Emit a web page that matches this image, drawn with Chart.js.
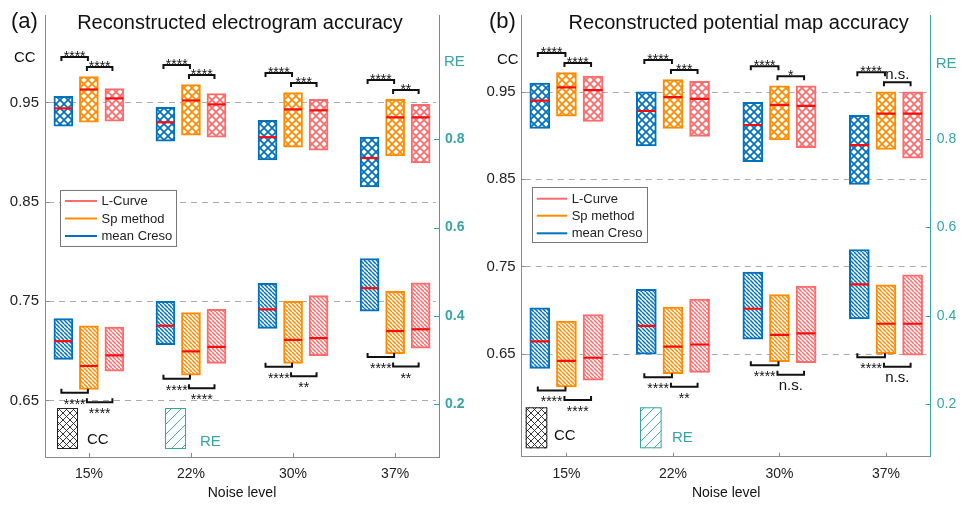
<!DOCTYPE html>
<html><head><meta charset="utf-8">
<script src="https://cdn.jsdelivr.net/npm/chart.js@4.4.1/dist/chart.umd.min.js"></script>
<style>
html,body{margin:0;padding:0;background:#fff;}
#wrap{position:relative;width:964px;height:506px;overflow:hidden;background:#fff;}
canvas{position:absolute;top:0;}
#ca{left:0;} #cb{left:482px;}
</style></head><body>
<div id="wrap"><canvas id="ca" width="482" height="506"></canvas><canvas id="cb" width="482" height="506"></canvas></div>
<script>
// ---------- data ----------
const categories = ['15%', '22%', '30%', '37%'];
const methods = ['mean Creso', 'Sp method', 'L-Curve'];
const ccTicks = [0.65, 0.75, 0.85, 0.95];
const reTicks = [0.2, 0.4, 0.6, 0.8];

// Panel (a) - electrogram, CC boxes
const ccA_creso_low = [0.926, 0.911, 0.892, 0.865];
const ccA_creso_high = [0.956, 0.945, 0.932, 0.915];
const ccA_creso_med = [0.944, 0.930, 0.915, 0.894];
const ccA_sp_low = [0.930, 0.917, 0.905, 0.896];
const ccA_sp_high = [0.976, 0.968, 0.960, 0.953];
const ccA_sp_med = [0.963, 0.952, 0.943, 0.935];
const ccA_lc_low = [0.931, 0.915, 0.902, 0.889];
const ccA_lc_high = [0.964, 0.959, 0.953, 0.948];
const ccA_lc_med = [0.954, 0.948, 0.942, 0.935];
// Panel (a) - RE boxes
const reA_creso_low = [0.302, 0.335, 0.372, 0.411];
const reA_creso_high = [0.394, 0.433, 0.474, 0.530];
const reA_creso_med = [0.343, 0.378, 0.415, 0.463];
const reA_sp_low = [0.234, 0.266, 0.293, 0.315];
const reA_sp_high = [0.378, 0.408, 0.433, 0.456];
const reA_sp_med = [0.287, 0.320, 0.346, 0.366];
const reA_lc_low = [0.275, 0.293, 0.310, 0.327];
const reA_lc_high = [0.375, 0.415, 0.446, 0.475];
const reA_lc_med = [0.311, 0.330, 0.350, 0.370];

// Panel (b) - potential map, CC boxes
const ccB_creso_low = [0.908, 0.888, 0.870, 0.844];
const ccB_creso_high = [0.960, 0.950, 0.938, 0.923];
const ccB_creso_med = [0.940, 0.928, 0.912, 0.889];
const ccB_sp_low = [0.922, 0.908, 0.895, 0.884];
const ccB_sp_high = [0.972, 0.964, 0.957, 0.950];
const ccB_sp_med = [0.955, 0.944, 0.935, 0.925];
const ccB_lc_low = [0.916, 0.899, 0.886, 0.874];
const ccB_lc_high = [0.968, 0.962, 0.957, 0.950];
const ccB_lc_med = [0.952, 0.942, 0.934, 0.925];
// Panel (b) - RE boxes
const reB_creso_low = [0.281, 0.313, 0.347, 0.393];
const reB_creso_high = [0.418, 0.460, 0.499, 0.550];
const reB_creso_med = [0.342, 0.377, 0.416, 0.471];
const reB_sp_low = [0.239, 0.269, 0.296, 0.314];
const reB_sp_high = [0.388, 0.420, 0.448, 0.470];
const reB_sp_med = [0.298, 0.330, 0.357, 0.382];
const reB_lc_low = [0.254, 0.272, 0.294, 0.311];
const reB_lc_high = [0.403, 0.438, 0.467, 0.493];
const reB_lc_med = [0.305, 0.335, 0.360, 0.382];

// significance labels (Creso vs Sp, Sp vs L-Curve)
const sigA_cc_bo = ['****', '****', '****', '****'];
const sigA_cc_or = ['****', '****', '***', '**'];
const sigA_re_bo = ['****', '****', '****', '****'];
const sigA_re_or = ['****', '****', '**', '**'];
const sigB_cc_bo = ['****', '****', '****', '****'];
const sigB_cc_or = ['****', '***', '*', 'n.s.'];
const sigB_re_bo = ['****', '****', '****', '****'];
const sigB_re_or = ['****', '**', 'n.s.', 'n.s.'];

// ---------- styling ----------
const FONT = '"Liberation Sans", Arial, Helvetica, sans-serif';
const colors = ['#0072BD', '#FF8C00', '#FF6B6B'];
const medColor = '#FF0A0A';
const teal = '#37A5A3';
const axisGray = '#8a8a8a';
const offsets = [-0.25, 0, 0.25];
Chart.defaults.font.family = FONT;

function hatch(kind, color, s, lw, bg) {
  const c = document.createElement('canvas'); c.width = s; c.height = s;
  const g = c.getContext('2d');
  g.fillStyle = bg || '#fff'; g.fillRect(0, 0, s, s);
  g.strokeStyle = color; g.lineWidth = lw;
  for (const o of [-s, 0, s]) {
    if (kind === 'cross' || kind === 'back') { g.beginPath(); g.moveTo(o, 0); g.lineTo(o + s, s); g.stroke(); }
    if (kind === 'cross' || kind === 'fwd') { g.beginPath(); g.moveTo(o + s, 0); g.lineTo(o, s); g.stroke(); }
  }
  return g.createPattern(c, 'repeat');
}

function buildPanel(canvas, P, L) {
  const datasets = [];
  for (let m = 0; m < 3; m++) {
    datasets.push({
      type: 'bar', label: methods[m] + ' CC', xAxisID: 'x', yAxisID: 'yCC', order: 2,
      data: categories.map((c, i) => ({ x: i + 1 + offsets[m], y: [P.ccLow[m][i], P.ccHigh[m][i]] })),
      backgroundColor: hatch('cross', colors[m], 8, 1.7), borderColor: colors[m],
      borderWidth: 2, borderSkipped: false, barThickness: L.barW, grouped: false
    });
    datasets.push({
      type: 'bar', label: methods[m] + ' RE', xAxisID: 'x', yAxisID: 'yRE', order: 2,
      data: categories.map((c, i) => ({ x: i + 1 + offsets[m], y: [P.reLow[m][i], P.reHigh[m][i]] })),
      backgroundColor: hatch('back', colors[m], 4, 1.5), borderColor: colors[m],
      borderWidth: 2, borderSkipped: false, barThickness: L.barW, grouped: false
    });
  }
  for (let m = 0; m < 3; m++) {
    datasets.push({
      type: 'scatter', label: methods[m] + ' CC median', xAxisID: 'x', yAxisID: 'yCC', order: 0,
      data: categories.map((c, i) => ({ x: i + 1 + offsets[m], y: P.ccMed[m][i] })),
      pointStyle: 'line', pointRadius: L.barW / 2 - 0.5, pointBorderWidth: 2.2,
      pointBorderColor: medColor, pointBackgroundColor: medColor, showLine: false
    });
    datasets.push({
      type: 'scatter', label: methods[m] + ' RE median', xAxisID: 'x', yAxisID: 'yRE', order: 0,
      data: categories.map((c, i) => ({ x: i + 1 + offsets[m], y: P.reMed[m][i] })),
      pointStyle: 'line', pointRadius: L.barW / 2 - 0.5, pointBorderWidth: 2.2,
      pointBorderColor: medColor, pointBackgroundColor: medColor, showLine: false
    });
  }

  const deco = {
    id: 'deco',
    beforeDatasetsDraw(chart) {
      const { ctx, chartArea: a, scales } = chart;
      ctx.save();
      ctx.strokeStyle = '#ababab'; ctx.lineWidth = 1; ctx.setLineDash([6, 5]);
      for (const v of ccTicks) {
        const y = Math.round(scales.yCC.getPixelForValue(v)) + 0.5;
        ctx.beginPath(); ctx.moveTo(a.left + 3, y); ctx.lineTo(a.right - 3, y); ctx.stroke();
      }
      ctx.restore();
    },
    afterDatasetsDraw(chart) {
      const { ctx, chartArea: a, scales } = chart;
      const xS = scales.x, yC = scales.yCC, yR = scales.yRE;
      ctx.save();
      // tick marks (inside)
      ctx.lineWidth = 1; ctx.strokeStyle = axisGray;
      for (let i = 1; i <= 4; i++) {
        const x = Math.round(xS.getPixelForValue(i)) + 0.5;
        ctx.beginPath(); ctx.moveTo(x, a.bottom); ctx.lineTo(x, a.bottom - 4); ctx.stroke();
      }
      for (const v of ccTicks) {
        const y = Math.round(yC.getPixelForValue(v)) + 0.5;
        ctx.beginPath(); ctx.moveTo(a.left, y); ctx.lineTo(a.left + 4, y); ctx.stroke();
      }
      ctx.strokeStyle = teal;
      for (const v of reTicks) {
        const y = Math.round(yR.getPixelForValue(v)) + 0.5;
        ctx.beginPath(); ctx.moveTo(a.right, y); ctx.lineTo(a.right - 5, y); ctx.stroke();
      }
      // significance brackets
      ctx.strokeStyle = '#111'; ctx.fillStyle = '#111'; ctx.lineWidth = 2; ctx.textAlign = 'center';
      const bracket = (x1, x2, y, dir, label, pos) => {
        ctx.beginPath();
        ctx.moveTo(x1, y + dir * 4); ctx.lineTo(x1, y); ctx.lineTo(x2, y); ctx.lineTo(x2, y + dir * 4);
        ctx.stroke();
        const ns = label === 'n.s.';
        ctx.font = (ns ? '15px ' : '14px ') + FONT;
        let by;
        if (pos === 'top') by = ns ? y - 3.5 : y + 3.7;
        else by = ns ? y + 15 : y + 16;
        ctx.fillText(label, (x1 + x2) / 2, by);
      };
      for (let i = 0; i < 4; i++) {
        const xs = offsets.map(o => xS.getPixelForValue(i + 1 + o));
        const tops = P.ccHigh.map(arr => yC.getPixelForValue(arr[i]));
        const yOR = Math.min(tops[1], tops[2]) - 9.5;
        const yBO = Math.min(Math.min(tops[0], tops[1]) - 9.5, yOR - 10);
        bracket(xs[0] - 2, xs[1] - 1, yBO, 1, P.sigCcBO[i], 'top');
        bracket(xs[1] - 2, xs[2] - 2, yOR, 1, P.sigCcOR[i], 'top');
        const bots = P.reLow.map(arr => yR.getPixelForValue(arr[i]));
        const bBO = Math.max(bots[0], bots[1]) + 3.5;
        const bOR = Math.max(Math.max(bots[1], bots[2]) + 3.5, bBO + 9.5);
        bracket(xs[0] - 2, xs[1] - 1, bBO, -1, P.sigReBO[i], 'bottom');
        bracket(xs[1] - 2, xs[2] - 2, bOR, -1, P.sigReOR[i], 'bottom');
      }
      // legend
      const lg = L.legend;
      ctx.lineWidth = 1; ctx.strokeStyle = '#777'; ctx.fillStyle = '#fff';
      ctx.fillRect(lg.x, lg.y, lg.w, lg.h);
      ctx.strokeRect(Math.round(lg.x) + 0.5, Math.round(lg.y) + 0.5, Math.round(lg.w), Math.round(lg.h));
      ctx.textAlign = 'left'; ctx.textBaseline = 'middle'; ctx.font = '13px ' + FONT;
      [2, 1, 0].forEach((m, k) => {
        const y = lg.rows[k];
        ctx.strokeStyle = colors[m]; ctx.lineWidth = 2;
        ctx.beginPath(); ctx.moveTo(lg.lx1, y); ctx.lineTo(lg.lx2, y); ctx.stroke();
        ctx.fillStyle = '#222'; ctx.fillText(methods[m], lg.tx, y + 0.5);
      });
      ctx.textBaseline = 'alphabetic';
      // pattern key
      const K = L.key;
      ctx.fillStyle = hatch('cross', '#222', 7, 0.9); ctx.fillRect(K.ccx, K.y, K.w, K.h);
      ctx.strokeStyle = '#222'; ctx.lineWidth = 1;
      ctx.strokeRect(K.ccx + 0.5, K.y + 0.5, K.w - 1, K.h - 1);
      ctx.fillStyle = hatch('fwd', teal, 10, 0.9); ctx.fillRect(K.rex, K.y, K.w, K.h);
      ctx.strokeStyle = teal; ctx.strokeRect(K.rex + 0.5, K.y + 0.5, K.w - 1, K.h - 1);
      ctx.font = '15px ' + FONT; ctx.fillStyle = '#111';
      ctx.fillText('CC', K.cctx, K.ccty);
      ctx.fillStyle = teal; ctx.fillText('RE', K.retx, K.rety);
      // titles and axis labels
      ctx.fillStyle = '#111';
      ctx.font = '22px ' + FONT; ctx.fillText(P.tag, L.tagX, 28);
      ctx.font = '20px ' + FONT; ctx.textAlign = 'center';
      ctx.fillText(P.title, L.titleX, 28.5);
      ctx.font = '14px ' + FONT; ctx.fillText('Noise level', (a.left + a.right) / 2, 497);
      ctx.textAlign = 'left'; ctx.font = '15px ' + FONT;
      ctx.fillText('CC', L.ccLabX, L.ccLabY);
      ctx.fillStyle = teal; ctx.fillText('RE', a.right + 5, L.reLabY);
      ctx.restore();
    }
  };

  return new Chart(canvas, {
    type: 'bar',
    data: { datasets },
    options: {
      responsive: false, animation: false, events: [],
      layout: { padding: { top: 10, left: 0, right: 0, bottom: 0 } },
      plugins: { legend: { display: false }, tooltip: { enabled: false } },
      scales: {
        x: {
          type: 'linear', position: 'bottom', min: L.xMin, max: L.xMax, offset: false,
          afterFit: s => { s.height = L.bottomH; },
          afterBuildTicks: s => { s.ticks = categories.map((c, i) => ({ value: i + 1 })); },
          ticks: { callback: v => categories[v - 1], color: '#222', font: { size: 14 }, padding: 9, maxRotation: 0, autoSkip: false },
          grid: { display: false, drawTicks: false },
          border: { display: true, color: axisGray, width: 1 }
        },
        yCC: {
          type: 'linear', position: 'left', min: L.ccMin, max: L.ccMax,
          afterFit: s => { s.width = L.leftW; },
          afterBuildTicks: s => { s.ticks = ccTicks.map(v => ({ value: v })); },
          ticks: { callback: v => v.toFixed(2), color: '#222', font: { size: 15 }, padding: 6 },
          grid: { display: false, drawTicks: false },
          border: { display: true, color: axisGray, width: 1 }
        },
        yRE: {
          type: 'linear', position: 'right', min: L.reMin, max: L.reMax,
          afterFit: s => { s.width = L.rightW; },
          afterBuildTicks: s => { s.ticks = reTicks.map(v => ({ value: v })); },
          ticks: { callback: v => v.toFixed(1), color: teal, font: { size: 14, weight: L.reBold ? 'bold' : 'normal' }, padding: 6 },
          grid: { display: false, drawTicks: false },
          border: { display: true, color: teal, width: 1 }
        }
      }
    },
    plugins: [deco]
  });
}

const panelA = {
  tag: '(a)', title: 'Reconstructed electrogram accuracy',
  ccLow: [ccA_creso_low, ccA_sp_low, ccA_lc_low], ccHigh: [ccA_creso_high, ccA_sp_high, ccA_lc_high], ccMed: [ccA_creso_med, ccA_sp_med, ccA_lc_med],
  reLow: [reA_creso_low, reA_sp_low, reA_lc_low], reHigh: [reA_creso_high, reA_sp_high, reA_lc_high], reMed: [reA_creso_med, reA_sp_med, reA_lc_med],
  sigCcBO: sigA_cc_bo, sigCcOR: sigA_cc_or, sigReBO: sigA_re_bo, sigReOR: sigA_re_or
};
const panelB = {
  tag: '(b)', title: 'Reconstructed potential map accuracy',
  ccLow: [ccB_creso_low, ccB_sp_low, ccB_lc_low], ccHigh: [ccB_creso_high, ccB_sp_high, ccB_lc_high], ccMed: [ccB_creso_med, ccB_sp_med, ccB_lc_med],
  reLow: [reB_creso_low, reB_sp_low, reB_lc_low], reHigh: [reB_creso_high, reB_sp_high, reB_lc_high], reMed: [reB_creso_med, reB_sp_med, reB_lc_med],
  sigCcBO: sigB_cc_bo, sigCcOR: sigB_cc_or, sigReBO: sigB_re_bo, sigReOR: sigB_re_or
};

buildPanel(document.getElementById('ca'), panelA, {
  leftW: 45, rightW: 43, bottomH: 49, barW: 19,
  xMin: 0.57, xMax: 4.43, ccMin: 0.593, ccMax: 1.038, reMin: 0.081, reMax: 1.081, reBold: true,
  tagX: 11, titleX: 240, ccLabX: 14, ccLabY: 62, reLabY: 66,
  legend: { x: 60, y: 190, w: 116, h: 56, lx1: 65, lx2: 97, tx: 101.5, rows: [201, 218.5, 236] },
  key: { ccx: 57, rex: 165, y: 408, w: 21, h: 41, cctx: 87, ccty: 444, retx: 200, rety: 445.5 }
});
buildPanel(document.getElementById('cb'), panelB, {
  leftW: 39.7, rightW: 33.3, bottomH: 49.3, barW: 20,
  xMin: 0.58, xMax: 4.42, ccMin: 0.532, ccMax: 1.038, reMin: 0.081, reMax: 1.081, reBold: false,
  tagX: 7, titleX: 256.7, ccLabX: 15, ccLabY: 64, reLabY: 68,
  legend: { x: 49.7, y: 187.3, w: 115, h: 55.4, lx1: 54.7, lx2: 85.3, tx: 89.7, rows: [198.7, 215.7, 233.3] },
  key: { ccx: 43.7, rex: 158, y: 407.3, w: 21.6, h: 41, cctx: 72, ccty: 440, retx: 190, rety: 442 }
});
</script>
</body></html>
